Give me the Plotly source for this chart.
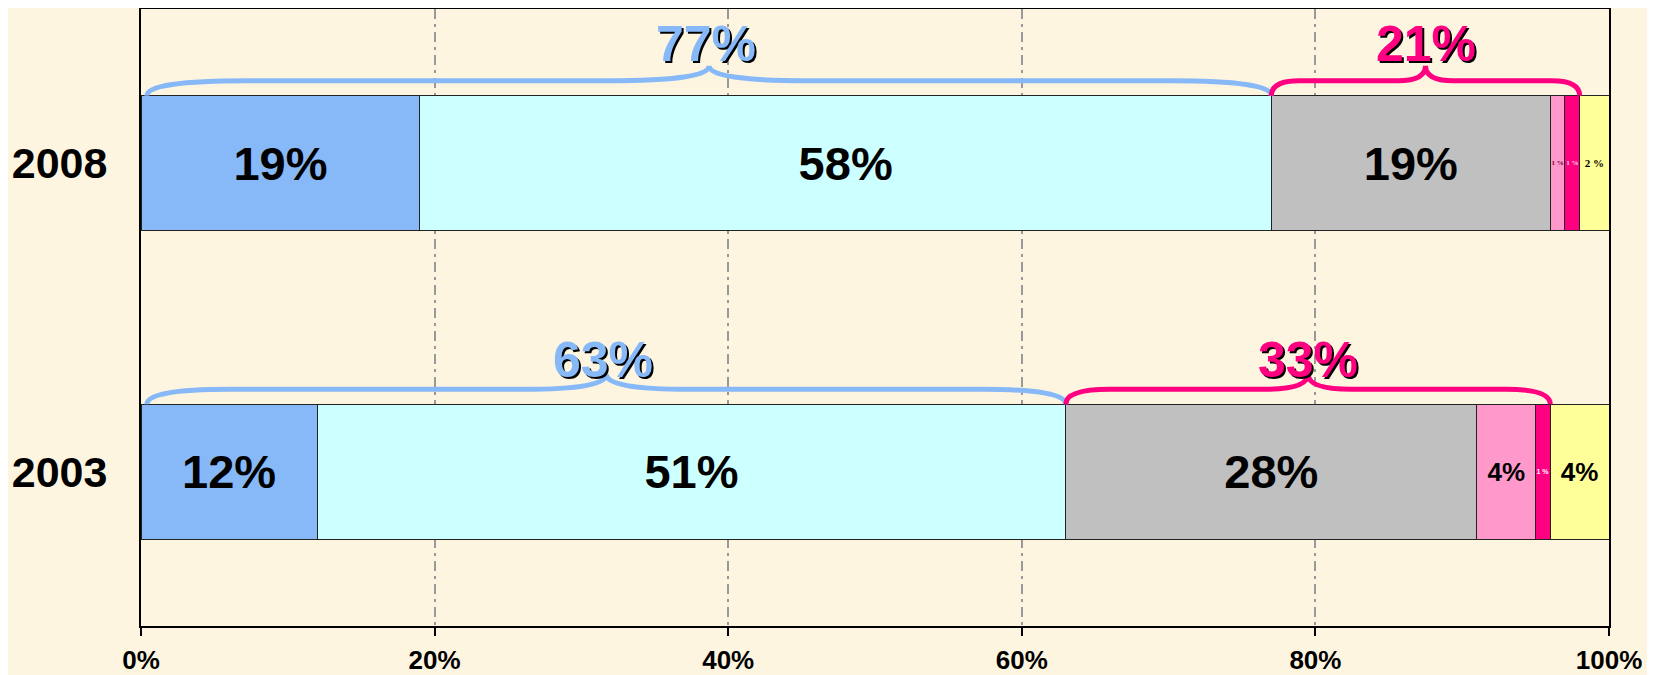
import plotly.graph_objects as go

# --- data ---
years = ["2003", "2008"]
blue = [12, 19]
cyan = [51, 58]
gray = [28, 19]
pink = [4, 1]
magenta = [1, 1]
yellow = [4, 2]
x_ticks = [0, 20, 40, 60, 80, 100]

series = [
    ("blue", "#87B8F8", blue),
    ("cyan", "#CCFFFF", cyan),
    ("gray", "#C0C0C0", gray),
    ("pink", "#FF99CC", pink),
    ("magenta", "#FF0080", magenta),
    ("yellow", "#FFFF99", yellow),
]
# braces: (first segment, last segment, colour)
groups = [(0, 1, "#87B8F8"), (2, 4, "#FF0080")]

BG = "#FEF5E1"
BAR_W = 0.437
ypos = list(range(len(years)))

# label styling per segment (size / colour / family for 2003, 2008)
label_style = {
    "blue": ([47, 47], ["black", "black"], ["Arial", "Arial"]),
    "cyan": ([47, 47], ["black", "black"], ["Arial", "Arial"]),
    "gray": ([47, 47], ["black", "black"], ["Arial", "Arial"]),
    "pink": ([26, 7], ["black", "#7A0040"], ["Arial", "Liberation Serif"]),
    "magenta": ([7, 7], ["white", "#FFD0E8"], ["Arial", "Liberation Serif"]),
    "yellow": ([26, 11], ["black", "black"], ["Arial", "Liberation Serif"]),
}


def fmt(v, size):
    return f"{v}%" if size >= 20 else f"{v} %"


fig = go.Figure()
for name, color, vals in series:
    sizes, colors, fams = label_style[name]
    fig.add_bar(
        y=ypos, x=vals, orientation="h", width=BAR_W, name=name,
        marker=dict(color=color, line=dict(color="#222222", width=1)),
        text=[fmt(v, s) for v, s in zip(vals, sizes)],
        textposition="inside", insidetextanchor="middle", constraintext="none",
        textangle=0,
        textfont=dict(size=sizes, color=colors, family=fams, weight="bold"),
        hoverinfo="skip",
    )


def brace_path(x0, x1, h):
    r = 0.09 * (x1 - x0)
    xm = (x0 + x1) / 2
    hl = h / 2
    return (f"M{x0},0 Q{x0},{hl} {x0 + r},{hl} L{xm - r},{hl} "
            f"Q{xm},{hl} {xm},{h} Q{xm},{hl} {xm + r},{hl} "
            f"L{x1 - r},{hl} Q{x1},{hl} {x1},0")


text_shift = [44, 52]
for i, yr in enumerate(years):
    vals = [s[2][i] for s in series]
    top = ypos[i] + BAR_W / 2
    for a, b, col in groups:
        x0 = sum(vals[:a])
        x1 = sum(vals[:b + 1])
        fig.add_shape(
            type="path", xref="x", yref="y", ysizemode="pixel", yanchor=top,
            path=brace_path(x0 + (0.4 if a == 0 else 0), x1, 30),
            line=dict(color=col, width=5),
        )
        total = sum(vals[a:b + 1])
        for dx, dy, c in [(2, -2, "black"), (0, 0, col)]:
            fig.add_annotation(
                x=(x0 + x1) / 2, y=top, xref="x", yref="y",
                text=f"{total}%", showarrow=False,
                xshift=dx, yshift=text_shift[i] + dy,
                font=dict(size=50, color=c, family="Arial", weight="bold"),
            )

# page has an 8px body margin, so the figure is sized to fit inside it
fig.update_layout(
    barmode="stack", showlegend=False,
    width=1647, height=667,
    margin=dict(l=133, r=46, t=1, b=49, autoexpand=False),
    paper_bgcolor=BG, plot_bgcolor=BG,
    font=dict(family="Arial, Liberation Sans", color="black"),
    bargap=0.56,
)
fig.update_xaxes(
    range=[0, 100], tickvals=x_ticks, ticktext=[f"{v}%" for v in x_ticks],
    showgrid=True, gridcolor="#999999", gridwidth=2, griddash="10px,5px,3px,5px",
    showline=True, linecolor="black", linewidth=2, mirror=True,
    ticks="outside", ticklen=8, tickcolor="black", tickwidth=2,
    ticklabelstandoff=2, automargin=False,
    tickfont=dict(size=26, weight="bold"), zeroline=False,
)
fig.update_yaxes(
    range=[-0.5, 1.5], tickvals=ypos, ticktext=years,
    showgrid=False, zeroline=False, automargin=False,
    showline=True, linecolor="black", linewidth=2, mirror=True,
    ticks="", ticklabelstandoff=23,
    tickfont=dict(size=43, weight="bold"),
)

fig.write_html("out.html")
